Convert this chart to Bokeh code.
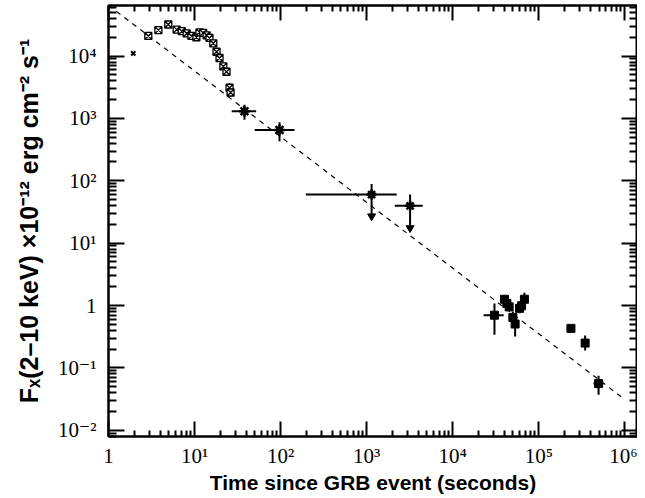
from bokeh.plotting import figure
from bokeh.models import LogAxis, FixedTicker, Range1d, ColumnDataSource
from bokeh.embed import file_html
from bokeh.resources import INLINE

# ---------------- data ----------------
# WFC early prompt points (open boxed crosses)
wfc_t = [2.9, 3.8, 4.95, 6.2, 7.1, 8.1, 9.2, 10.5, 11.4, 12.6, 13.8, 14.9, 16.5, 18.0, 19.5, 21.6, 23.5, 25.5, 26.2]
wfc_f = [2.1e4, 2.6e4, 3.2e4, 2.65e4, 2.5e4, 2.3e4, 2.1e4, 2.0e4, 2.4e4, 2.35e4, 2.15e4, 1.95e4, 1.6e4, 1.17e4, 9.3e3, 6.8e3, 5.6e3, 3.1e3, 2.6e3]
wfc_flo = [1.8e4, 2.3e4, 2.8e4, 2.35e4, 2.2e4, 2.0e4, 1.85e4, 1.75e4, 2.1e4, 2.05e4, 1.9e4, 1.7e4, 1.4e4, 1.0e4, 8.0e3, 5.9e3, 4.8e3, 2.6e3, 2.2e3]
wfc_fhi = [2.4e4, 2.9e4, 3.6e4, 2.95e4, 2.8e4, 2.6e4, 2.35e4, 2.25e4, 2.7e4, 2.65e4, 2.4e4, 2.2e4, 1.8e4, 1.35e4, 1.07e4, 7.8e3, 6.5e3, 3.7e3, 3.1e3]

# lone first point
first_t = [1.94]
first_f = [1.1e4]

# two integrated points (asterisks with error bars)
mid_t = [38.0, 97.0]
mid_f = [1300.0, 650.0]
mid_tlo = [27.0, 50.0]
mid_thi = [52.0, 145.0]
mid_flo = [950.0, 430.0]
mid_fhi = [1650.0, 870.0]

# upper limits
ul_t = [1140.0, 3190.0]
ul_f = [60.0, 39.6]
ul_tlo = [196.0, 2120.0]
ul_thi = [2230.0, 4480.0]
ul_fhi = [89.0, 60.0]
ul_tip = [27.0, 17.5]

# late NFI points (filled squares)
nfi_t = [3.05e4, 3.99e4, 4.25e4, 4.52e4, 4.99e4, 5.3e4, 5.96e4, 6.3e4, 6.8e4, 2.36e5, 3.45e5, 4.94e5]
nfi_f = [0.70, 1.26, 1.08, 0.95, 0.645, 0.505, 0.90, 0.99, 1.26, 0.43, 0.25, 0.056]
nfi_flo = [0.34, 1.10, 0.95, 0.82, 0.52, 0.32, 0.75, 0.82, 1.00, 0.39, 0.19, 0.037]
nfi_fhi = [1.08, 1.45, 1.22, 1.10, 0.80, 0.65, 1.07, 1.18, 1.60, 0.47, 0.33, 0.075]
nfi_tlo = [2.28e4, 3.9e4, 4.15e4, 4.42e4, 4.9e4, 5.2e4, 5.85e4, 6.2e4, 6.7e4, 2.3e5, 3.38e5, 4.3e5]
nfi_thi = [3.9e4, 4.08e4, 4.35e4, 4.62e4, 5.08e4, 5.4e4, 6.07e4, 6.4e4, 6.9e4, 2.42e5, 3.52e5, 5.65e5]

# power-law fit (dashed), endpoints
fit_t = [1.0, 1.0e6]
fit_f = [6.5e4, 0.031]

x_ticks = [1, 10, 100, 1e3, 1e4, 1e5, 1e6]
x_labels = ["1", "10\u00b9", "10\u00b2", "10\u00b3", "10\u2074", "10\u2075", "10\u2076"]
y_ticks = [0.01, 0.1, 1, 10, 100, 1e3, 1e4]
y_labels = ["10\u207b\u00b2", "10\u207b\u00b9", "1", "10\u00b9", "10\u00b2", "10\u00b3", "10\u2074"]

# ---------------- figure ----------------
p = figure(width=637, height=496, x_axis_type="log", y_axis_type="log",
           x_range=Range1d(1, 1.4e6), y_range=Range1d(10 ** -2.1, 10 ** 4.81),
           output_backend="svg", toolbar_location=None,
           min_border_left=108, min_border_right=0, min_border_top=5, min_border_bottom=0,
           background_fill_color="white", border_fill_color="white")
p.grid.visible = False
p.outline_line_color = "black"
p.outline_line_width = 2


def minors(majors):
    out = []
    for m in majors:
        for k in range(2, 10):
            out.append(m * k)
    return out


xt = FixedTicker(ticks=x_ticks, minor_ticks=minors([0.1] + x_ticks))
yt = FixedTicker(ticks=y_ticks, minor_ticks=minors([0.001] + y_ticks))

bottom = p.xaxis[0]
left = p.yaxis[0]
bottom.ticker = xt
left.ticker = yt
bottom.major_label_overrides = {t: l for t, l in zip(x_ticks, x_labels)}
left.major_label_overrides = {t: l for t, l in zip(y_ticks, y_labels)}

top = LogAxis(ticker=xt)
right = LogAxis(ticker=yt)
p.add_layout(top, "above")
p.add_layout(right, "right")

for ax in [bottom, top]:
    ax.major_tick_in = 15
    ax.minor_tick_in = 6
for ax in [left, right]:
    ax.major_tick_in = 16
    ax.minor_tick_in = 8

for ax in [bottom, left, top, right]:
    ax.axis_line_width = 2
    ax.major_tick_line_width = 2
    ax.minor_tick_line_width = 2
    ax.major_tick_out = 0
    ax.minor_tick_out = 0
    ax.major_label_text_font = "Liberation Serif, DejaVu Serif"
    ax.major_label_text_font_size = "21px"
    ax.major_label_text_color = "black"
    ax.axis_label_text_font = "Liberation Sans, Arial, sans-serif"
    ax.axis_label_text_font_style = "bold"
    ax.axis_label_text_font_size = "21px"
    ax.axis_label_text_color = "black"

for ax in [top, right]:
    ax.major_label_text_font_size = "1px"
    ax.major_label_text_alpha = 0
    ax.major_label_standoff = 0

left.axis_label_text_font_size = "25px"
bottom.major_label_standoff = 7
left.major_label_standoff = 12
bottom.axis_label = "Time since GRB event (seconds)"
left.axis_label = "F\u2093(2\u201310 keV) \u00d710\u207b\u00b9\u00b2 erg cm\u207b\u00b2 s\u207b\u00b9"
bottom.axis_label_standoff = 0
left.axis_label_standoff = 12

# ---------------- glyphs ----------------
p.line(fit_t, fit_f, line_color="black", line_width=1.2, line_dash="5 5")

# WFC
wsrc = ColumnDataSource(dict(t=wfc_t, f=wfc_f, lo=wfc_flo, hi=wfc_fhi))
p.segment(x0="t", y0="lo", x1="t", y1="hi", source=wsrc, line_color="black", line_width=1.5)
p.scatter(x="t", y="f", source=wsrc, marker="square_x", size=7, fill_color="white",
          line_color="black", line_width=1.3)
p.scatter(first_t, first_f, marker="x", size=6, line_color="black", line_width=2)

# mid points
msrc = ColumnDataSource(dict(t=mid_t, f=mid_f, tlo=mid_tlo, thi=mid_thi, flo=mid_flo, fhi=mid_fhi))
p.segment(x0="tlo", y0="f", x1="thi", y1="f", source=msrc, line_color="black", line_width=2)
p.segment(x0="t", y0="flo", x1="t", y1="fhi", source=msrc, line_color="black", line_width=2)
p.scatter(x="t", y="f", source=msrc, marker="asterisk", size=11, line_color="black", line_width=2.5)

# upper limits
usrc = ColumnDataSource(dict(t=ul_t, f=ul_f, tlo=ul_tlo, thi=ul_thi, fhi=ul_fhi, tip=ul_tip))
p.segment(x0="tlo", y0="f", x1="thi", y1="f", source=usrc, line_color="black", line_width=2)
p.segment(x0="t", y0="tip", x1="t", y1="fhi", source=usrc, line_color="black", line_width=2)
p.scatter(x="t", y="f", source=usrc, marker="asterisk", size=10, line_color="black", line_width=2.5)
p.scatter(x="t", y="tip", source=usrc, marker="inverted_triangle", size=8,
          fill_color="black", line_color="black")

# NFI
nsrc = ColumnDataSource(dict(t=nfi_t, f=nfi_f, lo=nfi_flo, hi=nfi_fhi, tlo=nfi_tlo, thi=nfi_thi))
p.segment(x0="t", y0="lo", x1="t", y1="hi", source=nsrc, line_color="black", line_width=2)
p.segment(x0="tlo", y0="f", x1="thi", y1="f", source=nsrc, line_color="black", line_width=2)
p.scatter(x="t", y="f", source=nsrc, marker="square", size=8, fill_color="black", line_color="black")

open("out.html", "w").write(file_html(p, INLINE))
